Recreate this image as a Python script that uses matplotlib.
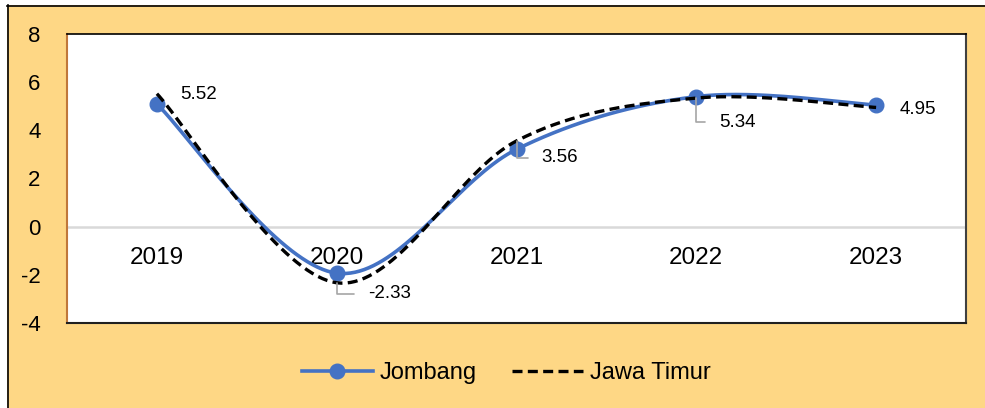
import numpy as np
import matplotlib
matplotlib.use("Agg")
import matplotlib.pyplot as plt
from matplotlib.lines import Line2D
import matplotlib.transforms as mtransforms

years = ["2019", "2020", "2021", "2022", "2023"]
jombang = [5.09, -1.93, 3.21, 5.40, 5.05]
jatim = [5.52, -2.33, 3.56, 5.34, 4.95]
jatim_labels = ["5.52", "-2.33", "3.56", "5.34", "4.95"]
yticks = [-4, -2, 0, 2, 4, 6, 8]

plt.rcParams['font.family'] = ['Liberation Sans', 'DejaVu Sans']

BG = '#FED785'
BLUE = '#4472C4'


def excel_smooth(y, n=40):
    """Bezier smoothing similar to spreadsheet smoothed lines."""
    y = np.asarray(y, float)
    x = np.arange(len(y), dtype=float)
    P = np.column_stack([x, y])
    out = []
    for i in range(len(P) - 1):
        p0 = P[i - 1] if i > 0 else P[i]
        p1 = P[i]
        p2 = P[i + 1]
        p3 = P[i + 2] if i + 2 < len(P) else P[i + 1]
        c1 = p1 + (p2 - p0) / 6.0
        c2 = p2 - (p3 - p1) / 6.0
        t = np.linspace(0, 1, n)[:, None]
        seg = ((1 - t) ** 3) * p1 + 3 * ((1 - t) ** 2) * t * c1 + 3 * (1 - t) * t ** 2 * c2 + t ** 3 * p2
        if i > 0:
            seg = seg[1:]
        out.append(seg)
    out = np.vstack(out)
    return out[:, 0], out[:, 1]


fig = plt.figure(figsize=(9.85, 4.08), dpi=100)
fig.patch.set_facecolor('white')

# chart area background and border
W, H = 985.0, 408.0
bgrect = plt.Rectangle((7 / W, 0), 1 - 7 / W, 1 - 5 / H, transform=fig.transFigure,
                       facecolor=BG, edgecolor='none', zorder=-10)
fig.patches.append(bgrect)
fig.add_artist(Line2D([7.5 / W, 7.5 / W], [0, 1 - 5 / H], color='black', lw=1.2,
                      transform=fig.transFigure, zorder=-5))
fig.add_artist(Line2D([7 / W, 1], [1 - 5.5 / H, 1 - 5.5 / H], color='black', lw=1.2,
                      transform=fig.transFigure, zorder=-5))

ax = fig.add_axes([67 / W, 1 - 323 / H, (966 - 67) / W, (323 - 34) / H])
ax.set_zorder(2)
ax.set_facecolor('white')
ax.set_xlim(-0.5, len(years) - 0.5)
ax.set_ylim(-4, 8)
ax.set_yticks(yticks)
ax.set_yticklabels([str(v) for v in yticks], fontsize=16)
ax.tick_params(axis='y', length=0, pad=19)
ax.set_xticks([])

ax.spines['left'].set_color('#C0773A')
ax.spines['left'].set_linewidth(1.5)
ax.spines['top'].set_color('black')
ax.spines['top'].set_linewidth(1.2)
ax.spines['right'].set_color('#404040')
ax.spines['right'].set_linewidth(1.5)
ax.spines['bottom'].set_color('#202020')
ax.spines['bottom'].set_linewidth(1.5)

ax.axhline(0, color='#D9D9D9', lw=1.8, zorder=1)

# category labels below zero line
trans = mtransforms.offset_copy(ax.transData, fig=fig, x=0, y=-20, units='dots')
for i, yr in enumerate(years):
    ax.text(i, 0, yr, transform=trans, ha='center', va='top', fontsize=17.5, color='black')

xs = np.arange(len(years))
bx, by = excel_smooth(jombang)
ax.plot(bx, by, color=BLUE, lw=2.6, zorder=3, solid_capstyle='round')
ax.plot(xs, jombang, 'o', color=BLUE, markersize=10.5, zorder=4)

jx, jy = excel_smooth(jatim)
ax.plot(jx, jy, color='black', lw=2.4, dashes=(3, 1.6), zorder=5)

# data labels for Jawa Timur
offsets = [(23, -1), (31, -11), (25, -17), (23, -24), (24, -2)]
leaders = [False, True, True, True, False]
for i, (lab, off, ld) in enumerate(zip(jatim_labels, offsets, leaders)):
    if ld:
        ax.annotate(lab, xy=(i, jatim[i]), xytext=off, textcoords='offset pixels',
                    ha='left', va='center', fontsize=13.5, color='black', zorder=6,
                    arrowprops=dict(arrowstyle='-', color='#A6A6A6', lw=1.2,
                                    connectionstyle='angle,angleA=0,angleB=90,rad=0',
                                    shrinkA=8, shrinkB=0, relpos=(0, 0.5)))
    else:
        ax.annotate(lab, xy=(i, jatim[i]), xytext=off, textcoords='offset pixels',
                    ha='left', va='center', fontsize=13.5, color='black', zorder=6)

handles = [
    Line2D([], [], color=BLUE, lw=2.6, marker='o', markersize=10.5),
    Line2D([], [], color='black', lw=2.4, dashes=(3, 1.6)),
]
fig.legend(handles, ['Jombang', 'Jawa Timur'], loc='center', bbox_to_anchor=(0.514, 1 - 373 / H),
           ncol=2, frameon=False, fontsize=17, handlelength=3.0, handletextpad=0.3,
           columnspacing=1.5)

fig.savefig('out.png', dpi=100, facecolor=fig.get_facecolor())
